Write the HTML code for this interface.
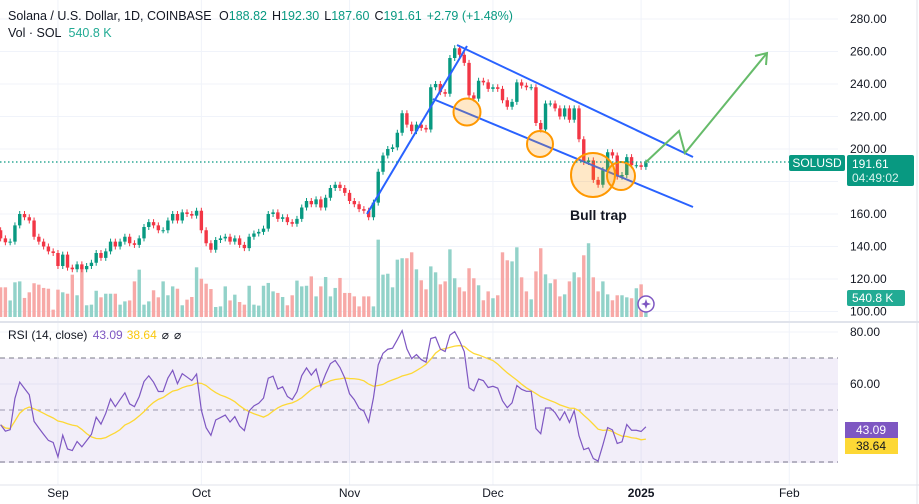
<!DOCTYPE html>
<html><head><meta charset="utf-8">
<style>
html,body{margin:0;padding:0;background:#fff;width:919px;height:504px;overflow:hidden;font-family:"Liberation Sans",sans-serif;}
svg{position:absolute;left:0;top:0}
.t{font-family:"Liberation Sans",sans-serif;font-size:12px;fill:#131722}
.h{font-family:"Liberation Sans",sans-serif;font-size:12.5px;fill:#131722}
</style></head><body>
<svg id="chart" width="919" height="504" viewBox="0 0 919 504" xmlns="http://www.w3.org/2000/svg">
<rect x="0" y="0" width="919" height="504" fill="#fff"/>
<g id="grid"></g>
<rect x="0" y="358" width="838" height="105" fill="#7e57c2" fill-opacity="0.1"/>
<g id="vol"></g>
<g id="candles"></g>
<g id="rsi"></g>
<g id="axes"></g>
<g>
 <line x1="367" y1="214" x2="467" y2="46" stroke="#2962ff" stroke-width="2"/>
 <line x1="457" y1="45" x2="693" y2="157" stroke="#2962ff" stroke-width="2"/>
 <line x1="433" y1="99" x2="693" y2="207" stroke="#2962ff" stroke-width="2"/>
 <circle cx="467" cy="112" r="13.5" fill="#ff9800" fill-opacity="0.22" stroke="#ff9800" stroke-width="2"/>
 <circle cx="540" cy="144" r="13" fill="#ff9800" fill-opacity="0.22" stroke="#ff9800" stroke-width="2"/>
 <circle cx="593" cy="175" r="22" fill="#ff9800" fill-opacity="0.22" stroke="#ff9800" stroke-width="2"/>
 <circle cx="621" cy="176" r="14" fill="#ff9800" fill-opacity="0.22" stroke="#ff9800" stroke-width="2"/>
 <polyline points="645,163 679,131 685,153 767,53" fill="none" stroke="#66bb6a" stroke-width="2"/>
 <polyline points="755,56 767,53 766,65" fill="none" stroke="#66bb6a" stroke-width="2"/>
 <text x="570" y="220" font-family="Liberation Sans" font-size="14" font-weight="bold" fill="#131722">Bull trap</text>
</g>
<g>
 <text x="8" y="20" class="h">Solana / U.S. Dollar, 1D, COINBASE <tspan dx="4">O</tspan><tspan fill="#089981">188.82</tspan><tspan dx="5">H</tspan><tspan fill="#089981">192.30</tspan><tspan dx="5">L</tspan><tspan fill="#089981">187.60</tspan><tspan dx="5">C</tspan><tspan fill="#089981">191.61</tspan><tspan dx="5" fill="#089981">+2.79 (+1.48%)</tspan></text>
 <text x="8" y="37" class="h">Vol · SOL <tspan dx="4" fill="#22ab94">540.8 K</tspan></text>
 <text x="8" y="339" class="t">RSI (14, close) <tspan dx="2" fill="#7e57c2">43.09</tspan><tspan dx="4" fill="#f9c80e">38.64</tspan><tspan dx="5">⌀</tspan><tspan dx="5">⌀</tspan></text>
</g>
<line x1="0" y1="162" x2="790" y2="162" stroke="#089981" stroke-width="1.3" stroke-dasharray="1.5 2.5"/>
<rect x="789" y="155" width="56" height="16" rx="2" fill="#089981"/>
<text x="817" y="167" text-anchor="middle" font-size="12" fill="#fff" font-family="Liberation Sans">SOLUSD</text>
<rect x="847" y="155" width="67" height="31" rx="2" fill="#089981"/>
<text x="852" y="168" font-size="12" fill="#fff" font-family="Liberation Sans">191.61</text>
<text x="852" y="182" font-size="12" fill="#d7f2ec" font-family="Liberation Sans">04:49:02</text>
<rect x="847" y="290" width="58" height="16" rx="2" fill="#22ab94"/>
<text x="852" y="302" font-size="12" fill="#fff" font-family="Liberation Sans">540.8 K</text>
<rect x="845" y="422" width="53" height="16" fill="#7e57c2"/>
<text x="871" y="434" text-anchor="middle" font-size="12" fill="#fff" font-family="Liberation Sans">43.09</text>
<rect x="845" y="438" width="53" height="16" fill="#fdd835"/>
<text x="871" y="450" text-anchor="middle" font-size="12" fill="#131722" font-family="Liberation Sans">38.64</text>
<g>
 <circle cx="646" cy="304" r="8" fill="#fff" stroke="#7e57c2" stroke-width="1.5"/>
 <path d="M646 299 L647.3 302.7 L651 304 L647.3 305.3 L646 309 L644.7 305.3 L641 304 L644.7 302.7 Z" fill="#7e57c2"/>
</g>
</svg>
<script>
const closes=[145,142.6,143,153,160,158,156,146,143,140,137,136,128,135,127,126,129,126,128,130,136,133,137,143,140,143,146,142,141,145,152,155,153,150,150,156,160,156,161,160,159,162,150,142,138,144,145,146,143,145,141,139,146,148,149,151,160,161,157,158,155,154,157,164,168,166,169,164,
170,176,178,176,173,168,166,163,162,158,167,186,196,200,201,210,222,215,211,215,213,212,238,240,235,234,256,262,258,253,233,231,242,241,237,238,237,230,226,229,241,239,238,238,216,212,228,228,225,220,225,218,225,206,192,193,181,178,187,198,196,183,184,195,190,190,189,191.61];
const firstOpen=150;
const volumes=[950,950,530,1110,1140,610,790,1080,1035,930,905,235,875,790,745,1355,695,1600,375,395,840,630,745,745,745,395,500,530,1140,1515,395,500,855,630,1140,695,980,905,375,555,640,1590,1225,1065,895,320,340,980,530,715,480,395,1000,395,365,1000,1090,820,770,640,375,695,1165,980,1000,1300,660,980,1280,660,930,1250,770,770,660,340,660,660,340,2475,1355,1385,950,1835,
1880,1880,2070,1525,1175,885,1620,1430,1045,1140,2165,1240,950,820,1560,1240,1015,535,820,600,695,2070,1815,1780,2230,1270,820,565,1460,2200,1365,1080,1205,660,725,1140,1430,1270,1975,2360,1270,820,1140,725,535,695,695,630,600,920,1045,541];
const priceTicks=[280,260,240,220,200,180,160,140,120,100];
const rsiTicks=[80,60];
const monthLabels=["Sep","Oct","Nov","Dec","2025","Feb"];
const monthIdx=[12,42,73,103,134,165];

const NS="http://www.w3.org/2000/svg";
function X(i){return 0.6+i*4.78;}
function Y(p){return 149+(200-p)*1.625;}
function VH(v){return v/32;}
function RY(r){return 358+(70-r)*2.6;}
function mk(tag,attrs,parent){const e=document.createElementNS(NS,tag);for(const k in attrs)e.setAttribute(k,attrs[k]);parent.appendChild(e);return e;}

const grid=document.getElementById('grid'),axes=document.getElementById('axes');
priceTicks.forEach(p=>{
 const l=mk('line',{x1:0,x2:838,y1:Y(p),y2:Y(p),stroke:'#f0f3fa'},grid);
 
 
 const t=mk('text',{x:850,y:Y(p)+4,'class':'t'},axes);
 t.textContent=p.toFixed(2);
 
 
});
rsiTicks.forEach(r=>{
 const l=mk('line',{x1:0,x2:838,y1:RY(r),y2:RY(r),stroke:'#f0f3fa'},grid);
 
 
 const t=mk('text',{x:850,y:RY(r)+4,'class':'t'},axes);
 t.textContent=r.toFixed(2);
 
 
});
[70,50,30].forEach(r=>{
 const l=mk('line',{x1:0,x2:838,y1:RY(r),y2:RY(r),stroke:r===50?'#a0a0ad':'#787b86','stroke-dasharray':'5 4'},grid);
 
 
});
monthIdx.forEach((mi,k)=>{
 const x=X(mi);
 const l=mk('line',{x1:x,x2:x,y1:0,y2:485,stroke:'#f0f3fa'},grid);
 
 
 const t=mk('text',{x:x,y:497,'class':'t','text-anchor':'middle'},axes);
 if(monthLabels[k]==='2025')t.setAttribute('font-weight','bold');
 t.textContent=monthLabels[k];
 
 
});
let s=mk('line',{x1:0,x2:919,y1:322,y2:322,stroke:'#e0e3eb','stroke-width':2},axes);


s=mk('line',{x1:0,x2:919,y1:485,y2:485,stroke:'#e0e3eb'},axes);


s=mk('line',{x1:917,x2:917,y1:0,y2:504,stroke:'#e0e3eb'},axes);



const cg=document.getElementById('candles'),vg=document.getElementById('vol');
closes.forEach((c,i)=>{
 const o=i===0?firstOpen:closes[i-1];
 const up=c>=o;
 const col=up?'#089981':'#f23645';
 const hi=Math.max(o,c),lo=Math.min(o,c);
 const x=X(i);
 const w=mk('line',{x1:x,x2:x,y1:Y(hi)-3,y2:Y(lo)+3,stroke:col,'stroke-width':1},cg);
 
 
 const b=mk('rect',{x:x-1.7,y:Y(hi),width:3.4,height:Math.max(1,Y(lo)-Y(hi)),fill:col},cg);
 
 
 const h=VH(volumes[i]);
 const v=mk('rect',{x:x-1.7,y:317-h,width:3.4,height:h,fill:up?'#92d2c9':'#f7a9a7'},vg);
 
 
});

const rsi=[];let ag=1.5,al=1.5;
closes.forEach((c,i)=>{
 const prev=i===0?firstOpen:closes[i-1];const d=c-prev;
 ag=(ag*13+Math.max(d,0))/14;al=(al*13+Math.max(-d,0))/14;
 rsi.push(100-100/(1+ag/al));
});
const ma=rsi.map((r,i)=>{const a=rsi.slice(Math.max(0,i-13),i+1);return a.reduce((p,q)=>p+q,0)/a.length;});
const rg=document.getElementById('rsi');
const p1=mk('polyline',{points:ma.map((r,i)=>X(i)+','+RY(r)).join(' '),fill:'none',stroke:'#fdd835','stroke-width':1.3},rg);


const p2=mk('polyline',{points:rsi.map((r,i)=>X(i)+','+RY(r)).join(' '),fill:'none',stroke:'#7e57c2','stroke-width':1.2},rg);


</script>
</body></html>
